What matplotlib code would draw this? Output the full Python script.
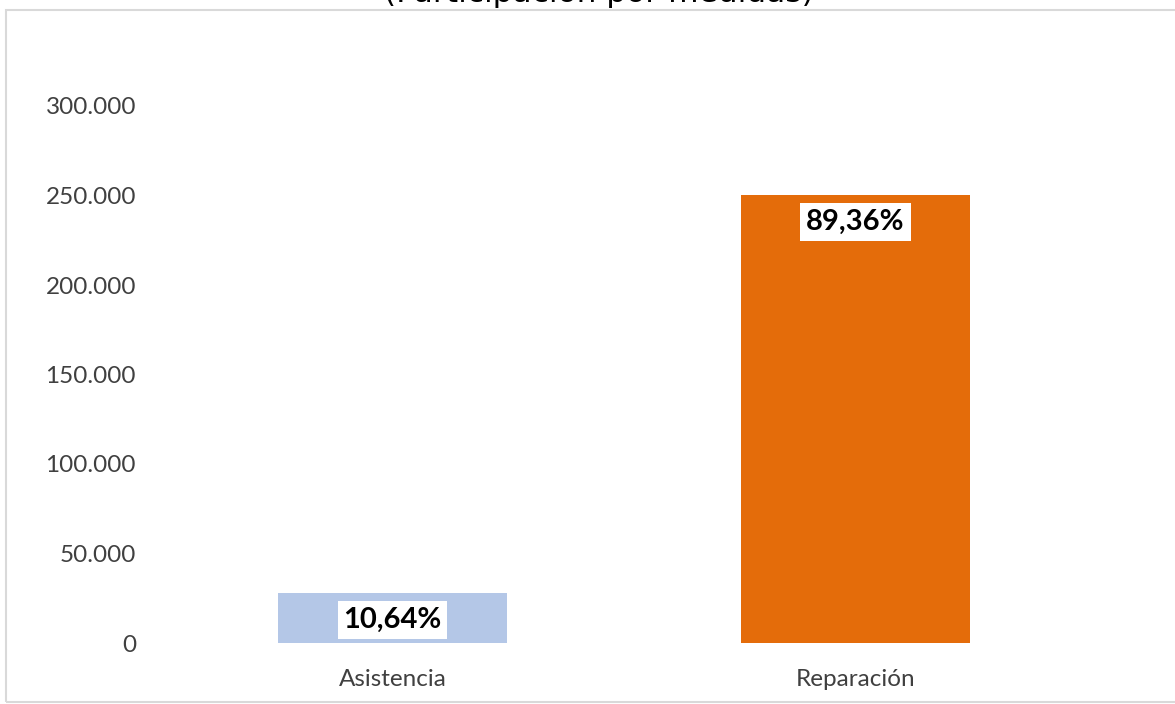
import matplotlib.pyplot as plt
from matplotlib.patches import Rectangle
from matplotlib.ticker import FuncFormatter

# Data
categories = ["Asistencia", "Reparación"]
values = [28000, 250300]
shares = ["10,64%", "89,36%"]
colors = ["#B4C7E7", "#E46C0A"]
yticks = [0, 50000, 100000, 150000, 200000, 250000, 300000]

plt.rcParams["font.family"] = ["Lato", "DejaVu Sans"]

fig = plt.figure(figsize=(11.75, 7.04), dpi=100)
ax = fig.add_axes([161 / 1175, 1 - 643 / 704, 926 / 1175, (643 - 106) / 704])

# chart frame (runs off the right edge in the reference)
fig.patches.append(Rectangle((6 / 1175, 2 / 704), 1.2, 1 - 11.5 / 704,
                             transform=fig.transFigure, fill=False,
                             edgecolor="#d9d9d9", linewidth=1.5))

x = range(len(categories))
bars = ax.bar(x, values, width=0.495, color=colors)

for b, s in zip(bars, shares):
    ax.annotate(s, (b.get_x() + b.get_width() / 2, b.get_height()),
                xytext=(0, -19.5), textcoords="offset points",
                ha="center", va="center", fontsize=21, fontweight="bold",
                color="black",
                bbox=dict(boxstyle="square,pad=0.2", fc="white", ec="none"))

ax.set_xlim(-0.5, 1.5)
ax.set_ylim(0, 300000)
ax.set_yticks(yticks)
ax.yaxis.set_major_formatter(FuncFormatter(lambda v, _: f"{int(v):,}".replace(",", ".")))
ax.set_xticks(list(x))
ax.set_xticklabels(categories)
ax.tick_params(axis="y", length=0, pad=18, labelsize=17.5, labelcolor="#404040")
ax.tick_params(axis="x", length=0, pad=18.5, labelsize=17.5, labelcolor="#404040")
for sp in ax.spines.values():
    sp.set_visible(False)

# title is cut off at the top of the reference image
fig.text(599 / 1175, 1 - 8 / 704, "(Participación por medidas)", ha="center",
         va="bottom", fontsize=22.5, family="DejaVu Sans", color="black")

fig.savefig("out.png", dpi=100)
